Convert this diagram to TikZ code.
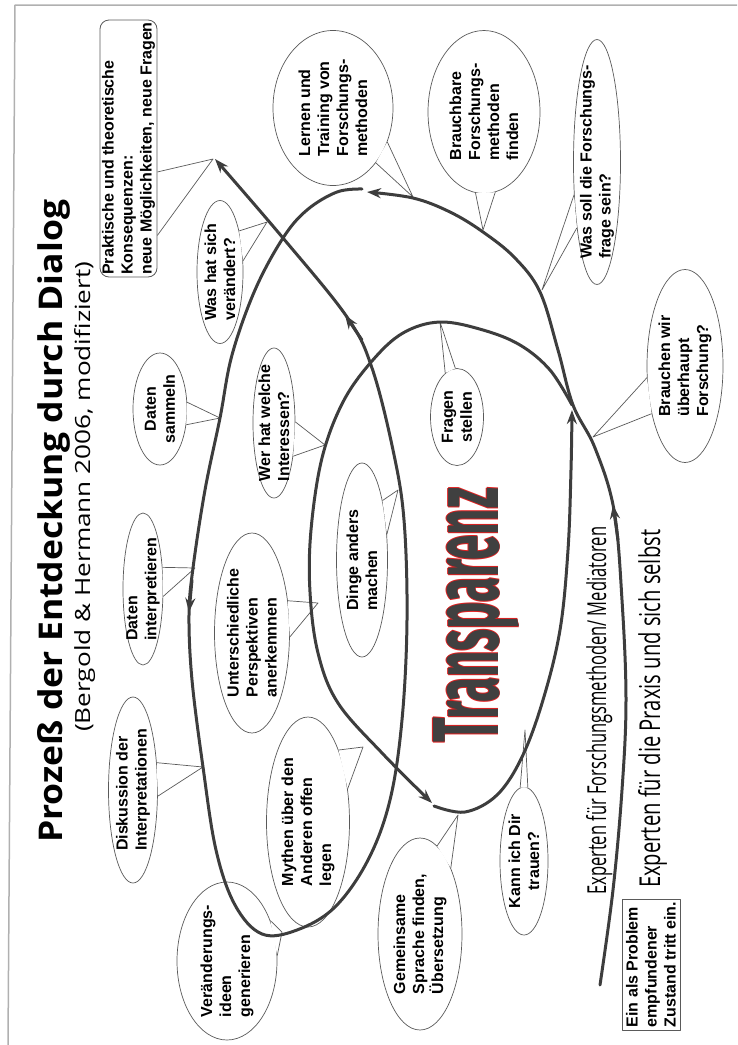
\documentclass[tikz,border=0pt]{standalone}
\usepackage{fontspec}
\usepackage{graphicx}
\usetikzlibrary{shapes.geometric,arrows.meta,calc}
\newfontfamily\bubblefont{Liberation Sans}
\newfontfamily\titlefont{Open Sans}
\newfontfamily\transfont{Fira Sans}
\definecolor{linegray}{HTML}{3D3D3D}
\definecolor{bubblegray}{HTML}{5A5A5A}
\definecolor{framegray}{HTML}{B0B0B0}
\definecolor{transred}{HTML}{E02020}
\definecolor{transgray}{HTML}{404040}
% red rim round the big word
\newcommand\rimtext[1]{%
  \rlap{\textcolor{transred}{\kern-1.8pt#1}}%
  \rlap{\textcolor{transred}{\kern1.8pt#1}}%
  \rlap{\textcolor{transred}{\raisebox{0.9pt}{#1}}}%
  \rlap{\textcolor{transred}{\raisebox{-0.9pt}{#1}}}%
  \textcolor{transgray}{#1}}
\begin{document}
\begin{tikzpicture}[x=1pt,y=-1pt,line join=round,
    flow/.style={draw=linegray,line width=3pt,line cap=round},
    headend/.style={-{Stealth[length=14pt,width=10pt]}},
    bubble/.style={ellipse,draw=bubblegray,line width=0.7pt,fill=white,inner sep=-10pt,align=left,rotate=90,
      font=\bubblefont\bfseries\fontsize{16}{19}\selectfont},
    notebox/.style={draw=bubblegray,line width=0.8pt,fill=white,inner sep=2pt,align=left,rotate=90,
      font=\bubblefont\bfseries\fontsize{16}{19}\selectfont},
    pointer/.style={draw=bubblegray,line width=0.7pt},
    caption/.style={rotate=90,anchor=base west,inner sep=0pt}]
\useasboundingbox (0,0) rectangle (737,1045);
\draw[framegray,line width=1.5pt] (737,5) -- (15,5) -- (8,1045);

% Titel
\node[caption] (title) at (62,843) {\resizebox{643pt}{25pt}{\titlefont\bfseries Prozeß der Entdeckung durch Dialog}};
\node[caption] (subtitle) at (90,732) {\resizebox{470pt}{16pt}{\titlefont (Bergold \& Hermann 2006, modifiziert)}};
\node[caption] (transp) at (498,743) {\resizebox{255pt}{66pt}{\transfont\bfseries\fontsize{95}{95}\selectfont\rimtext{Transparenz}}};
\node[caption] (expfm) at (606,895) {\resizebox{368pt}{20pt}{\titlefont Experten für Forschungsmethoden/ Mediatoren}};
\node[caption] (exppr) at (660,888) {\resizebox{358pt}{22pt}{\titlefont Experten für die Praxis und sich selbst}};

% Spitzen der Sprechblasen
\coordinate (tPrakt) at (213,159);
\coordinate (tLern) at (413,197);
\coordinate (tBrauch) at (483,230);
\coordinate (tWassoll) at (542,290);
\coordinate (tBrauchen) at (593,437);
\coordinate (tWashat) at (267,222);
\coordinate (tDsam) at (220,418);
\coordinate (tWerhat) at (325,445);
\coordinate (tDint) at (195,568);
\coordinate (tUnter) at (318,603);
\coordinate (tDinge) at (398,490);
\coordinate (tMythen) at (363,747);
\coordinate (tDisk) at (203,767);
\coordinate (tVeraend) at (282,932);
\coordinate (tGemein) at (458,815);
\coordinate (tKann) at (525,730);
\coordinate (tFragen) at (440,322);

\node[notebox,rounded corners=9pt,minimum width=257pt,minimum height=57pt] (prakt) at (128.5,148.5)
  {Praktische und theoretische\\Konsequenzen:\\neue Möglichkeiten, neue Fragen};
\node[notebox,minimum width=131pt,minimum height=58pt] (einbox) at (651,964.5)
  {Ein als Problem\\empfundener\\Zustand tritt ein.};

\node[bubble,minimum width=155pt,minimum height=120pt] (lern) at (333,108) {Lernen und\\Training von\\Forschungs-\\methoden};
\node[bubble,minimum width=163pt,minimum height=112pt] (brauch) at (484,112) {Brauchbare\\Forschungs-\\methoden\\finden};
\node[bubble,minimum width=237pt,minimum height=47pt] (wassoll) at (597,162) {Was soll die Forschungs-\\frage sein?};
\node[bubble,minimum width=193pt,minimum height=76pt] (brauchen) at (685,366) {Brauchen wir\\überhaupt\\Forschung?};
\node[bubble,minimum width=143pt,minimum height=46pt] (washat) at (220,272) {Was hat sich\\verändert?};
\node[bubble,align=center,minimum width=112pt,minimum height=54pt] (dsam) at (160,409) {Daten\\sammeln};
\node[bubble,minimum width=150pt,minimum height=42pt] (werhat) at (274,423) {Wer hat welche\\Interessen?};
\node[bubble,minimum width=152pt,minimum height=40pt] (dint) at (143,589) {Daten\\interpretieren};
\node[bubble,minimum width=200pt,minimum height=75pt] (unter) at (252,633) {Unterschiedliche\\Perspektiven\\anerkennnen};
\node[bubble,minimum width=194pt,minimum height=51pt] (dinge) at (362,560) {Dinge anders\\machen};
\node[bubble,minimum width=210pt,minimum height=83pt] (mythen) at (308,822) {Mythen über den\\Anderen offen\\legen};
\node[bubble,minimum width=186pt,minimum height=49pt] (disk) at (133,790) {Diskussion der\\Interpretationen};
\node[bubble,minimum width=158pt,minimum height=100pt] (veraend) at (227,961) {Veränderungs-\\ideen\\generieren};
\node[bubble,minimum width=192pt,minimum height=84pt] (gemein) at (420,934) {Gemeinsame\\Sprache finden,\\Übersetzung};
\node[bubble,align=center,minimum width=148pt,minimum height=48pt] (kann) at (524,861) {Kann ich Dir\\trauen?};
\node[bubble,align=center,minimum width=97pt,minimum height=53pt] (fragen) at (457,417) {Fragen\\stellen};

\foreach \n/\a/\b/\t in {lern/218/238/tLern, brauch/174/188/tBrauch, wassoll/145/163/tWassoll,
    brauchen/107/145/tBrauchen, washat/335/296/tWashat, dsam/284/239/tDsam, werhat/273/210/tWerhat,
    dint/318/250/tDint, unter/312/264/tUnter, dinge/341/316/tDinge, mythen/337/310/tMythen,
    disk/319/256/tDisk, veraend/313/276/tVeraend, gemein/349/335/tGemein, kann/3/357/tKann,
    fragen/15/2/tFragen}{
  \fill[white] (\n.\a) -- (\t) -- (\n.\b) -- cycle;
  \draw[pointer] (\n.\a) -- (\t) -- (\n.\b);
}
\draw[pointer] ($(prakt.south west)!0.409!(prakt.south east)$) -- (tPrakt) -- ($(prakt.south west)!0.163!(prakt.south east)$);

% Spirale
\draw[flow,headend] plot[smooth,tension=0.6] coordinates {(600,985) (613,890) (622,790) (626,700) (622,600)
  (614,510) (595,448) (573,405) (558,350) (540,292) (515,258) (483,232) (450,212) (413,198) (367,192)};
\draw[flow,headend] plot[smooth,tension=0.6] coordinates {(362,189) (337,192) (307,210) (283,238) (255,290)
  (232,355) (220,418) (205,490) (193,568) (189,615) (192,680) (203,767) (216,850) (235,905) (262,934)
  (297,930) (335,907) (368,860) (390,800) (402,720) (407,620) (404,520) (393,450) (372,368) (347,317)
  (283,238) (215,159)};
\draw[flow,headend] plot[smooth,tension=0.6] coordinates {(572,405) (550,370) (520,345) (483,330) (440,322)
  (403,333) (372,361) (343,402) (322,458) (311,530) (310,592) (318,653) (338,703) (383,754) (432,803)};
\draw[flow,headend] plot[smooth,tension=0.6] coordinates {(434,806) (465,812) (497,795) (522,757) (543,700)
  (560,630) (568,550) (571,470) (572,410)};
\draw[flow,headend] (618,540) -- (613,505);
\draw[flow,headend] (192,580) -- (189,612);
\draw[flow,headend] (362,340) -- (345,315);
\end{tikzpicture}
\end{document}
